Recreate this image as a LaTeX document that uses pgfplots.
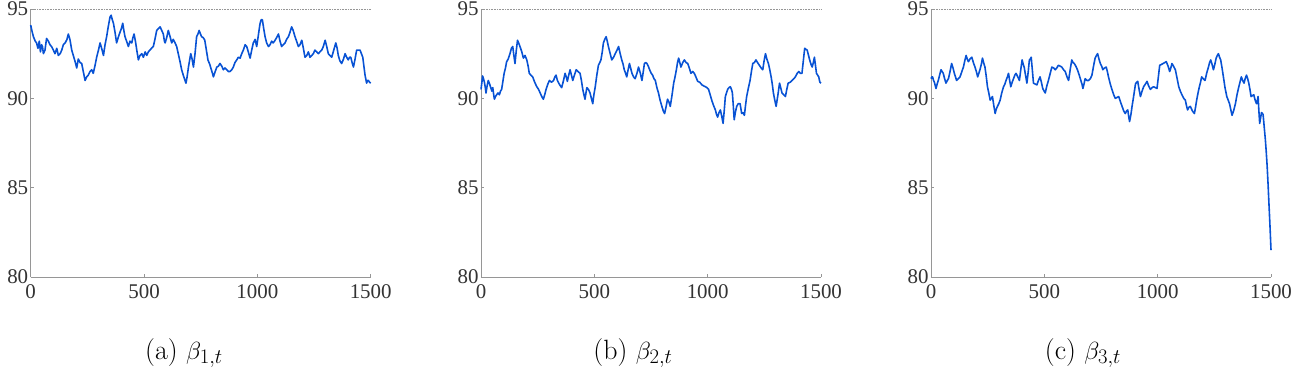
\documentclass[border=0pt]{standalone}
\usepackage{pgfplots}
\pgfplotsset{compat=1.18}
\usepackage{fontspec}
\newfontfamily\tickfont{Liberation Serif}
\definecolor{lineblue}{RGB}{8,82,212}
\definecolor{axgray}{RGB}{150,150,150}
\pgfplotsset{
  betastyle/.style={
    scale only axis, width=340bp, height=268bp,
    xmin=0, xmax=1500, ymin=80, ymax=95,
    xtick={0,500,1000,1500}, ytick={80,85,90,95},
    xticklabels={0,500,1000,1500}, yticklabels={80,85,90,95},
    axis x line*=bottom, axis y line*=left,
    axis line style={axgray, line width=0.7pt, -},
    tick style={axgray, line width=0.5pt},
    tick align=inside, major tick length=3bp,
    ticklabel style={font=\tickfont\fontsize{21}{21}\selectfont, text=black!80},
    xticklabel style={yshift=-4bp},
    yticklabel style={xshift=1bp},
    clip=false,
  },
  betaline/.style={lineblue, line width=1.6pt, line join=round},
  refline/.style={axgray, densely dotted, line width=0.6pt},
}
\begin{document}
\begin{tikzpicture}
\path[use as bounding box] (0,0) rectangle (1292bp,371bp);
% panel a
\begin{axis}[betastyle, at={(30.7bp,94bp)}, anchor=south west]
\addplot[refline] coordinates {(0,95)(1500,95)};
\addplot[betaline] coordinates {
(0,94.1)(5,93.8)(12,93.45)(20,93.2)(26,93.1)(32,92.8)(38,93.2)(43,92.6)(48,93.0)(52,92.9)(56,92.5)(63,92.7)(70,93.35)(78,93.2)(85,93.0)(92,92.9)(100,92.7)(107,92.5)(115,92.8)(122,92.4)(130,92.5)(137,92.7)(144,93.0)(152,93.1)(160,93.3)(166,93.6)(173,93.3)(181,92.7)(188,92.4)(196,92.05)(203,91.7)(210,92.2)(218,92.0)(225,91.95)(232,91.5)(240,91.0)(247,91.2)(254,91.3)(262,91.5)(269,91.6)(276,91.4)(284,91.85)(291,92.3)(299,92.7)(306,93.1)(313,92.8)(321,92.4)(328,93.0)(335,93.45)(342,94.0)(350,94.55)(355,94.65)(360,94.4)(365,94.2)(372,93.7)(379,93.1)(386,93.4)(394,93.7)(400,93.9)(406,94.2)(411,93.8)(416,93.45)(423,93.2)(431,92.9)(438,93.2)(446,93.1)(451,93.4)(456,93.6)(462,93.2)(468,92.7)(475,92.15)(482,92.4)(490,92.5)(497,92.3)(505,92.6)(512,92.4)(519,92.6)(526,92.7)(533,92.8)(541,92.9)(548,93.3)(556,93.8)(563,93.9)(571,94.0)(578,93.8)(585,93.6)(590,93.2)(593,93.1)(600,93.4)(607,93.8)(614,93.5)(622,93.1)(629,93.3)(637,93.1)(644,92.9)(651,92.5)(658,92.1)(666,91.6)(673,91.3)(681,91.0)(685,90.85)(690,91.2)(696,91.75)(702,92.2)(706,92.5)(712,92.2)(718,91.75)(725,92.5)(732,93.45)(738,93.6)(743,93.8)(749,93.6)(754,93.45)(761,93.4)(768,93.25)(775,92.7)(782,92.15)(790,91.9)(797,91.6)(802,91.4)(806,91.2)(814,91.5)(821,91.75)(828,91.8)(835,91.95)(843,91.8)(850,91.6)(857,91.7)(865,91.6)(872,91.5)(879,91.5)(887,91.6)(894,91.75)(901,92.0)(909,92.15)(916,92.3)(924,92.25)(931,92.5)(938,92.7)(946,93.0)(953,92.9)(960,92.6)(968,92.25)(975,92.7)(982,93.1)(990,93.3)(997,92.9)(1004,93.5)(1012,94.2)(1017,94.4)(1022,94.4)(1028,93.9)(1034,93.45)(1041,93.1)(1049,92.9)(1056,93.0)(1063,93.2)(1070,93.1)(1078,93.25)(1085,93.4)(1093,93.6)(1100,93.2)(1107,92.9)(1114,93.0)(1122,93.1)(1129,93.3)(1137,93.45)(1144,93.7)(1151,94.0)(1158,93.8)(1166,93.45)(1173,93.2)(1181,92.9)(1188,93.0)(1196,93.25)(1203,92.8)(1210,92.3)(1218,92.4)(1225,92.6)(1232,92.3)(1240,92.4)(1247,92.5)(1254,92.7)(1262,92.6)(1269,92.5)(1276,92.6)(1284,92.7)(1291,92.9)(1299,93.25)(1306,92.9)(1313,92.5)(1320,92.4)(1328,92.3)(1337,92.7)(1346,93.1)(1352,92.8)(1357,92.4)(1364,92.1)(1372,91.95)(1380,92.2)(1387,92.5)(1394,92.3)(1401,92.15)(1407,92.3)(1412,92.3)(1418,92.0)(1424,91.75)(1431,92.2)(1438,92.7)(1446,92.7)(1453,92.7)(1459,92.5)(1465,92.3)(1470,91.8)(1475,91.3)(1482,90.85)(1486,91.0)(1490,91.0)(1495,90.9)(1500,90.85)
};
\end{axis}
% panel b
\begin{axis}[betastyle, at={(481bp,94bp)}, anchor=south west]
\addplot[refline] coordinates {(0,95)(1500,95)};
\addplot[betaline] coordinates {
(0,90.5)(4,90.9)(7,91.25)(11,91.1)(15,90.9)(19,90.6)(22,90.3)(27,90.7)(32,91.0)(38,90.8)(43,90.6)(48,90.4)(52,90.6)(56,90.2)(59,89.95)(64,90.1)(69,90.2)(75,90.3)(81,90.2)(86,90.4)(91,90.5)(96,90.9)(102,91.4)(108,91.7)(113,92.05)(120,92.2)(128,92.5)(134,92.8)(140,92.9)(145,92.4)(150,91.95)(155,92.6)(161,93.25)(166,93.1)(172,92.9)(180,92.6)(187,92.25)(194,92.4)(202,92.15)(208,91.8)(213,91.4)(220,91.3)(228,91.2)(237,90.9)(246,90.65)(254,90.5)(261,90.3)(268,90.1)(275,89.95)(281,90.2)(287,90.5)(295,90.8)(302,91.0)(311,90.9)(320,91.0)(326,91.2)(331,91.3)(337,91.0)(343,90.85)(350,90.7)(356,90.6)(364,91.0)(371,91.4)(376,91.2)(381,90.95)(387,91.3)(393,91.6)(399,91.3)(405,91.0)(412,91.3)(420,91.6)(428,91.5)(437,91.4)(443,91.0)(449,90.5)(454,90.2)(459,89.95)(463,90.3)(467,90.6)(474,90.5)(481,90.3)(487,90.0)(493,89.7)(498,90.2)(504,90.65)(511,91.3)(518,91.85)(524,92.0)(529,92.15)(535,92.6)(540,93.1)(546,93.3)(552,93.45)(557,93.2)(562,92.9)(570,92.5)(577,92.15)(585,92.3)(592,92.5)(600,92.7)(607,92.9)(614,92.5)(621,92.15)(627,91.9)(632,91.6)(638,91.4)(643,91.2)(649,91.6)(655,91.95)(660,91.7)(666,91.4)(673,91.2)(680,91.1)(688,91.4)(695,91.75)(703,91.4)(710,91.0)(716,91.5)(721,91.95)(727,92.0)(732,91.95)(738,91.8)(744,91.6)(751,91.4)(757,91.3)(763,91.1)(769,91.0)(776,90.6)(783,90.3)(790,89.9)(798,89.55)(804,89.3)(810,89.15)(816,89.5)(823,89.95)(829,89.8)(835,89.55)(843,90.2)(850,90.85)(856,91.2)(862,91.6)(867,92.0)(872,92.25)(877,92.0)(882,91.75)(890,92.0)(897,92.15)(905,92.0)(912,91.95)(919,91.7)(926,91.4)(934,91.5)(941,91.4)(948,91.2)(956,90.95)(965,90.9)(975,90.75)(982,90.7)(990,90.65)(997,90.6)(1004,90.5)(1011,90.2)(1019,89.85)(1026,89.6)(1034,89.35)(1039,89.1)(1044,88.95)(1050,89.2)(1056,89.35)(1062,89.0)(1068,88.6)(1073,89.3)(1078,90.1)(1083,90.3)(1088,90.5)(1094,90.6)(1100,90.65)(1105,90.5)(1109,90.3)(1113,89.6)(1117,88.8)(1122,89.2)(1128,89.55)(1135,89.7)(1143,89.7)(1150,89.15)(1156,89.2)(1162,89.05)(1167,89.6)(1172,90.1)(1180,90.6)(1187,91.0)(1193,91.5)(1199,91.95)(1206,92.0)(1213,92.15)(1220,92.0)(1228,91.85)(1236,91.7)(1243,91.6)(1249,92.1)(1255,92.5)(1261,92.2)(1268,91.95)(1274,91.6)(1280,91.2)(1285,90.8)(1290,90.3)(1296,89.9)(1302,89.55)(1310,90.2)(1317,90.85)(1322,90.6)(1328,90.3)(1336,90.2)(1343,90.1)(1349,90.5)(1355,90.85)(1364,90.9)(1372,91.0)(1380,91.1)(1387,91.2)(1395,91.4)(1402,91.5)(1409,91.4)(1416,91.4)(1422,92.1)(1428,92.8)(1433,92.75)(1439,92.7)(1445,92.4)(1450,92.15)(1456,91.9)(1461,91.75)(1466,92.0)(1471,92.3)(1476,91.8)(1480,91.4)(1485,91.3)(1490,91.2)(1495,90.9)(1500,90.85)
};
\end{axis}
% panel c
\begin{axis}[betastyle, at={(931bp,94bp)}, anchor=south west]
\addplot[refline] coordinates {(0,95)(1500,95)};
\addplot[betaline] coordinates {
(0,91.1)(4,91.2)(7,91.2)(11,91.0)(15,90.9)(19,90.7)(22,90.55)(27,90.8)(32,91.0)(38,91.3)(44,91.6)(49,91.5)(54,91.4)(60,91.1)(66,90.85)(72,91.0)(77,91.1)(84,91.5)(91,91.95)(97,91.7)(103,91.4)(108,91.2)(113,91.0)(120,91.1)(128,91.2)(136,91.5)(143,91.75)(149,92.1)(155,92.4)(160,92.2)(165,92.05)(172,92.2)(180,92.3)(187,92.0)(194,91.75)(200,91.5)(206,91.2)(211,91.4)(216,91.6)(222,91.9)(227,92.25)(232,92.0)(238,91.75)(244,91.2)(249,90.65)(255,90.3)(261,89.9)(266,90.0)(271,90.1)(277,89.6)(283,89.15)(288,89.4)(293,89.55)(299,89.7)(305,89.9)(312,90.3)(320,90.65)(326,90.8)(331,91.0)(337,91.2)(342,91.4)(347,91.0)(352,90.65)(358,90.9)(364,91.1)(370,91.3)(375,91.4)(383,91.2)(390,91.0)(396,91.6)(402,92.15)(407,91.9)(411,91.75)(417,91.3)(423,90.85)(429,91.5)(434,92.15)(438,92.2)(442,92.3)(447,91.6)(452,90.85)(460,90.8)(467,90.75)(474,91.0)(481,91.2)(487,90.9)(493,90.55)(499,90.4)(504,90.3)(511,90.7)(518,91.0)(526,91.4)(533,91.75)(541,91.7)(548,91.6)(555,91.7)(562,91.85)(570,91.8)(577,91.75)(585,91.6)(592,91.5)(600,91.2)(607,91.0)(614,91.6)(621,92.15)(627,92.0)(632,91.95)(639,91.8)(646,91.6)(654,91.3)(661,91.0)(666,90.8)(670,90.55)(675,90.8)(680,91.1)(688,91.0)(695,91.0)(703,91.1)(710,91.3)(717,91.8)(724,92.25)(730,92.4)(735,92.5)(741,92.2)(747,91.95)(753,91.8)(758,91.6)(766,91.7)(773,91.75)(778,91.5)(783,91.2)(791,90.8)(798,90.5)(806,90.2)(813,90.0)(821,90.05)(828,90.1)(836,89.8)(843,89.55)(850,89.3)(857,89.15)(863,89.3)(868,89.35)(872,89.0)(876,88.7)(882,89.1)(887,89.55)(895,90.2)(902,90.8)(907,90.9)(912,90.95)(918,90.5)(924,90.1)(931,90.4)(938,90.65)(946,90.8)(953,90.95)(960,90.7)(968,90.5)(975,90.6)(982,90.65)(990,90.6)(997,90.55)(1003,91.2)(1009,91.85)(1017,91.9)(1024,91.95)(1031,92.0)(1038,92.05)(1046,91.8)(1053,91.5)(1058,91.7)(1063,91.95)(1070,91.8)(1078,91.6)(1086,91.1)(1093,90.65)(1100,90.4)(1107,90.2)(1115,90.0)(1122,89.9)(1127,89.6)(1132,89.35)(1138,89.5)(1144,89.55)(1153,89.3)(1162,89.15)(1167,89.5)(1172,89.9)(1178,90.3)(1184,90.65)(1189,90.9)(1194,91.2)(1201,91.1)(1209,91.0)(1216,91.4)(1224,91.75)(1229,92.0)(1234,92.15)(1240,91.9)(1246,91.6)(1252,91.9)(1258,92.25)(1263,92.4)(1268,92.5)(1273,92.3)(1278,92.15)(1284,91.7)(1290,91.2)(1297,90.6)(1305,90.1)(1311,89.9)(1317,89.7)(1322,89.4)(1328,89.05)(1335,89.3)(1343,89.7)(1350,90.2)(1358,90.65)(1363,90.9)(1369,91.2)(1375,91.0)(1381,90.85)(1386,91.1)(1392,91.3)(1397,91.1)(1402,90.85)(1407,90.5)(1412,90.1)(1418,90.15)(1424,90.2)(1430,89.9)(1436,89.7)(1440,89.9)(1443,90.1)(1446,89.4)(1450,88.6)(1454,88.9)(1458,89.2)(1462,89.15)(1465,89.1)(1470,88.4)(1475,87.7)(1479,87.0)(1483,86.2)(1487,85.2)(1490,84.35)(1495,83.0)(1500,81.5)
};
\end{axis}
% captions
\node[font=\fontsize{28}{32}\selectfont] at (184bp,18bp) {(a) $\beta_{1,t}$};
\node[font=\fontsize{28}{32}\selectfont] at (633bp,18bp) {(b) $\beta_{2,t}$};
\node[font=\fontsize{28}{32}\selectfont] at (1083bp,18bp) {(c) $\beta_{3,t}$};
\end{tikzpicture}
\end{document}
